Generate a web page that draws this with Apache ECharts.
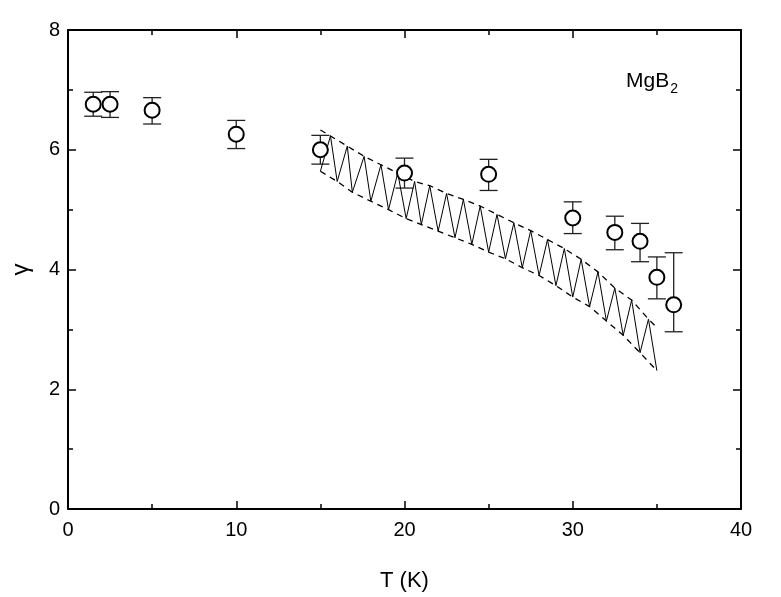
<!DOCTYPE html>
<html>
<head>
<meta charset="utf-8">
<script src="https://cdn.jsdelivr.net/npm/echarts@6/dist/echarts.min.js"></script>
<style>
	html, body { margin: 0; padding: 0; background: #fff; }
	#chart { width: 781px; height: 597px; }
</style>
</head>
<body>
<div id="chart"></div>
<script>
	// measured points, T in K
	const tempK = [1.5, 2.5, 5, 10, 15, 20, 25, 30, 32.5, 34, 35, 36];
	const gamma = [6.76, 6.76, 6.66, 6.26, 6.0, 5.61, 5.59, 4.86, 4.62, 4.47, 3.87, 3.41];
	const gammaHi = [6.96, 6.97, 6.87, 6.49, 6.24, 5.86, 5.84, 5.13, 4.89, 4.77, 4.21, 4.28];
	const gammaLo = [6.56, 6.54, 6.43, 6.02, 5.76, 5.36, 5.32, 4.60, 4.33, 4.13, 3.51, 2.96];

	// hatched band: upper and lower edges
	const bandUpT = [15.0, 15.6, 16.6, 17.6, 18.6, 19.6, 20.6, 21.5, 22.5, 23.5, 24.5, 25.5, 26.5, 27.5, 28.5, 29.5, 30.5, 31.5, 32.5, 33.5, 34.5, 35.0];
	const bandUp = [6.33, 6.23, 6.06, 5.89, 5.75, 5.61, 5.47, 5.40, 5.27, 5.17, 5.06, 4.92, 4.78, 4.65, 4.50, 4.35, 4.17, 3.96, 3.69, 3.49, 3.17, 3.03];
	const bandLoT = [15.0, 16.0, 16.9, 18.0, 19.05, 20.1, 21.0, 22.0, 23.0, 24.0, 25.0, 26.0, 27.0, 28.0, 29.0, 30.0, 31.0, 32.0, 33.0, 34.0, 35.0];
	const bandLo = [5.64, 5.47, 5.29, 5.14, 5.0, 4.85, 4.75, 4.64, 4.53, 4.42, 4.29, 4.18, 4.03, 3.90, 3.73, 3.54, 3.38, 3.14, 2.90, 2.61, 2.31];

	const xTicks = [0, 10, 20, 30, 40];
	const yTicks = [0, 2, 4, 6, 8];

	var font = 'Liberation Sans, Arial, sans-serif';
	var narrow = 'Liberation Sans Narrow, Arial Narrow, Liberation Sans, sans-serif';

	var points = tempK.map(function(t, i) { return [t, gamma[i]]; });
	var bars = tempK.map(function(t, i) { return [t, gammaLo[i], gammaHi[i]]; });
	var upper = bandUpT.map(function(t, i) { return [t, bandUp[i]]; });
	var lower = bandLoT.map(function(t, i) { return [t, bandLo[i]]; });

	// zigzag hatch: lower[0] -> upper[1] -> lower[1] -> upper[2] ...
	var zigzag = [];
	for (var i = 0; i < lower.length; i++) {
		zigzag.push(lower[i]);
		if (i + 1 < upper.length - 1) zigzag.push(upper[i + 1]);
	}

	function axisX(pos, labels) {
		return {
			type: 'value',
			position: pos,
			min: xTicks[0],
			max: xTicks[xTicks.length - 1],
			interval: 10,
			axisLine: { show: true, onZero: false, lineStyle: { color: '#000', width: 2 } },
			axisTick: { show: true, inside: true, length: 8, lineStyle: { color: '#000', width: 1.5 } },
			minorTick: { show: true, splitNumber: 2, length: 5, lineStyle: { color: '#000', width: 1.5 } },
			splitLine: { show: false },
			axisLabel: { show: labels, color: '#000', fontSize: 20, fontFamily: narrow, margin: 11 },
			name: labels ? 'T (K)' : '',
			nameLocation: 'middle',
			nameGap: 61,
			nameTextStyle: { color: '#000', fontSize: 22, fontFamily: narrow }
		};
	}

	function axisY(pos, labels) {
		return {
			type: 'value',
			position: pos,
			min: yTicks[0],
			max: yTicks[yTicks.length - 1],
			interval: 2,
			axisLine: { show: true, onZero: false, lineStyle: { color: '#000', width: 2 } },
			axisTick: { show: true, inside: true, length: 8, lineStyle: { color: '#000', width: 1.5 } },
			minorTick: { show: true, splitNumber: 2, length: 5, lineStyle: { color: '#000', width: 1.5 } },
			splitLine: { show: false },
			axisLabel: { show: labels, color: '#000', fontSize: 20, fontFamily: narrow, margin: 8 },
			name: labels ? 'γ' : '',
			nameLocation: 'middle',
			nameRotate: 90,
			nameGap: 35,
			nameTextStyle: { color: '#000', fontSize: 24, fontFamily: font }
		};
	}

	var myChart = echarts.init(document.getElementById('chart'), null, { renderer: 'canvas' });

	var option = {
		backgroundColor: '#fff',
		animation: false,
		grid: { left: 68, right: 40, top: 30, bottom: 87 },
		xAxis: [axisX('bottom', true), axisX('top', false)],
		yAxis: [axisY('left', true), axisY('right', false)],
		graphic: [{
			type: 'text',
			left: 626,
			top: 66,
			style: {
				text: '{a|MgB}{b|2}',
				rich: {
					a: { fontSize: 21, fontFamily: font, fill: '#000', lineHeight: 26 },
					b: { fontSize: 14, fontFamily: font, fill: '#000', lineHeight: 26, padding: [16, 0, 0, 1] }
				}
			}
		}],
		series: [
			{
				type: 'line',
				data: zigzag,
				symbol: 'none',
				lineStyle: { color: '#000', width: 1 },
				silent: true
			},
			{
				type: 'line',
				data: upper,
				symbol: 'none',
				lineStyle: { color: '#000', width: 1.3, type: [6, 5] }
			},
			{
				type: 'line',
				data: lower,
				symbol: 'none',
				lineStyle: { color: '#000', width: 1.3, type: [6, 5] }
			},
			{
				type: 'custom',
				data: bars,
				renderItem: function(params, api) {
					var x = api.value(0);
					var top = api.coord([x, api.value(2)]);
					var bot = api.coord([x, api.value(1)]);
					var w = 9;
					var st = { stroke: '#222', lineWidth: 1.3 };
					return {
						type: 'group',
						children: [
							{ type: 'line', shape: { x1: top[0], y1: top[1], x2: bot[0], y2: bot[1] }, style: st },
							{ type: 'line', shape: { x1: top[0] - w, y1: top[1], x2: top[0] + w, y2: top[1] }, style: st },
							{ type: 'line', shape: { x1: bot[0] - w, y1: bot[1], x2: bot[0] + w, y2: bot[1] }, style: st }
						]
					};
				},
				z: 3
			},
			{
				type: 'scatter',
				data: points,
				symbol: 'circle',
				symbolSize: 15,
				itemStyle: { color: '#fff', borderColor: '#000', borderWidth: 2, opacity: 1 },
				z: 4
			}
		]
	};

	myChart.setOption(option);
</script>
</body>
</html>
